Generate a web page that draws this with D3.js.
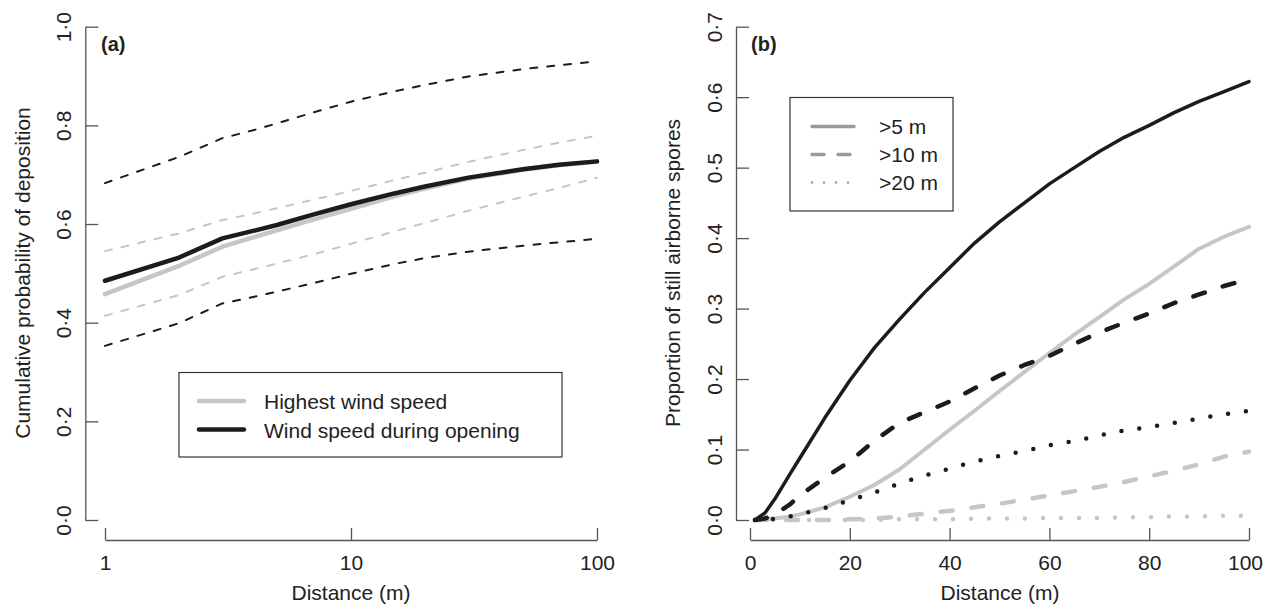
<!DOCTYPE html>
<html>
<head>
<meta charset="utf-8">
<script src="https://cdn.jsdelivr.net/npm/d3@7"></script>
<style>
  body { margin: 0; background: #fff; }
  svg text { font-family: 'Liberation Sans', Arial, Helvetica, sans-serif; fill: #222; }
</style>
</head>
<body>
<div class="chart"></div>
<script>
// DATA - panel (a)
var distA = [1, 2, 3, 4, 5, 7, 10, 15, 20, 30, 50, 70, 100];
var openMean  = [0.485, 0.532, 0.571, 0.586, 0.598, 0.619, 0.640, 0.662, 0.676, 0.694, 0.711, 0.720, 0.727];
var highMean  = [0.458, 0.515, 0.554, 0.573, 0.587, 0.609, 0.631, 0.656, 0.672, 0.692, 0.710, 0.719, 0.726];
var openUpper = [0.683, 0.736, 0.774, 0.790, 0.804, 0.826, 0.848, 0.869, 0.882, 0.899, 0.914, 0.922, 0.930];
var openLower = [0.353, 0.399, 0.439, 0.452, 0.463, 0.480, 0.499, 0.519, 0.531, 0.544, 0.556, 0.563, 0.570];
var highUpper = [0.545, 0.581, 0.608, 0.621, 0.632, 0.649, 0.667, 0.689, 0.704, 0.726, 0.750, 0.765, 0.779];
var highLower = [0.414, 0.456, 0.493, 0.508, 0.520, 0.538, 0.560, 0.585, 0.602, 0.627, 0.655, 0.673, 0.694];
var ticksAX = [1, 10, 100];
var ticksAY = [0, 0.2, 0.4, 0.6, 0.8, 1.0];
var legendA = ["Highest wind speed", "Wind speed during opening"];

// DATA - panel (b)
var distB = [1, 3, 5, 8, 10, 15, 20, 25, 30, 35, 40, 45, 50, 55, 60, 65, 70, 75, 80, 85, 90, 95, 100];
var open5  = [0, 0.010, 0.030, 0.065, 0.088, 0.145, 0.198, 0.245, 0.285, 0.323, 0.358, 0.393, 0.423, 0.450, 0.477, 0.500, 0.523, 0.543, 0.560, 0.578, 0.594, 0.608, 0.622];
var high5  = [0, 0.001, 0.002, 0.005, 0.008, 0.018, 0.033, 0.050, 0.072, 0.100, 0.128, 0.155, 0.183, 0.210, 0.237, 0.263, 0.288, 0.313, 0.335, 0.360, 0.385, 0.402, 0.416];
var open10 = [0, 0.002, 0.008, 0.022, 0.035, 0.060, 0.083, 0.113, 0.138, 0.153, 0.168, 0.187, 0.205, 0.220, 0.233, 0.250, 0.266, 0.280, 0.293, 0.308, 0.320, 0.332, 0.342];
var high10 = [0, 0, 0, 0, 0, 0, 0.001, 0.002, 0.005, 0.009, 0.013, 0.018, 0.023, 0.029, 0.035, 0.041, 0.047, 0.054, 0.062, 0.070, 0.079, 0.090, 0.097];
var open20 = [0, 0, 0.002, 0.005, 0.008, 0.017, 0.028, 0.039, 0.052, 0.063, 0.073, 0.083, 0.091, 0.098, 0.106, 0.112, 0.120, 0.127, 0.132, 0.138, 0.144, 0.150, 0.155];
var high20 = [0, 0, 0, 0, 0, 0, 0, 0, 0.001, 0.001, 0.001, 0.002, 0.002, 0.002, 0.003, 0.003, 0.003, 0.004, 0.004, 0.005, 0.005, 0.006, 0.006];
var ticksBX = [0, 20, 40, 60, 80, 100];
var ticksBY = [0, 0.1, 0.2, 0.3, 0.4, 0.5, 0.6, 0.7];
var legendB = [">5 m", ">10 m", ">20 m"];

var BLACK = "#1c1c1c", LIGHT = "#c6c6c6", MID = "#9a9a9a", AXIS = "#555";
var DASH_A = "7,10", DASH_B = "12,19", DOT = "0,18";

var width = 1263, height = 606;
var svg = d3.select(".chart").append("svg")
    .attr("width", width)
    .attr("height", height);

var fmt = function(d) { return d3.format(".1f")(d).replace(".", "\u00b7"); };

// draws x axis (ticks pointing up) and y axis (ticks pointing right), R style
function drawAxes(x, y, xTicks, yTicks, xFmt, axisX, axisY) {
    var gx = svg.append("g")
        .attr("transform", "translate(0," + axisY + ")")
        .call(d3.axisBottom(x).tickValues(xTicks).tickFormat(xFmt)
            .tickSizeInner(-12).tickSizeOuter(0).tickPadding(15));
    var gy = svg.append("g")
        .attr("transform", "translate(" + axisX + ",0)")
        .call(d3.axisLeft(y).tickValues(yTicks).tickFormat(fmt)
            .tickSizeInner(-13).tickSizeOuter(0));
    [gx, gy].forEach(function(g) {
        g.select(".domain").attr("stroke", AXIS).attr("stroke-width", 1.3);
        g.selectAll(".tick line").attr("stroke", AXIS).attr("stroke-width", 1.3);
        g.selectAll("text").attr("font-size", 21).attr("fill", "#222")
            .style("font-family", "'Liberation Sans', Arial, sans-serif");
    });
    gy.selectAll(".tick text")
        .attr("x", null).attr("dy", null)
        .attr("text-anchor", "middle")
        .attr("transform", "translate(-14,0) rotate(-90)");
    return gx;
}

function drawLine(x, y, xs, ys, color, w, dash) {
    var pts = xs.map(function(d, i) { return [d, ys[i]]; });
    var line = d3.line()
        .x(function(d) { return x(d[0]); })
        .y(function(d) { return y(d[1]); });
    svg.append("path")
        .datum(pts)
        .attr("d", line)
        .attr("fill", "none")
        .attr("stroke", color)
        .attr("stroke-width", w)
        .attr("stroke-linecap", "round")
        .attr("stroke-linejoin", "round")
        .attr("stroke-dasharray", dash || null);
}

function yTitle(txt, bx) {
    svg.append("text")
        .attr("transform", "translate(" + bx + "," + 273 + ") rotate(-90)")
        .attr("text-anchor", "middle")
        .attr("font-size", 21)
        .text(txt);
}

// PANEL (a)
var xA = d3.scaleLog().domain([1, 100]).range([105, 597]);
var yA = d3.scaleLinear().domain([0, 1]).range([520, 26.7]);
drawAxes(xA, yA, ticksAX, ticksAY, d3.format("d"), 85.3, 540);

drawLine(xA, yA, distA, openUpper, BLACK, 2, DASH_A);
drawLine(xA, yA, distA, openLower, BLACK, 2, DASH_A);
drawLine(xA, yA, distA, highUpper, LIGHT, 2, DASH_A);
drawLine(xA, yA, distA, highLower, LIGHT, 2, DASH_A);
drawLine(xA, yA, distA, highMean, LIGHT, 4.5);
drawLine(xA, yA, distA, openMean, BLACK, 4.5);

svg.append("text").attr("x", 101).attr("y", 51)
    .attr("font-size", 20).attr("font-weight", "bold").text("(a)");
yTitle("Cumulative probability of deposition", 30);
svg.append("text").attr("x", 351).attr("y", 600)
    .attr("text-anchor", "middle").attr("font-size", 21).text("Distance (m)");

// legend (a)
svg.append("rect").attr("x", 179).attr("y", 372.5).attr("width", 383).attr("height", 84.5)
    .attr("fill", "none").attr("stroke", "#333").attr("stroke-width", 1.2);
var legA = svg.selectAll(".legA").data(legendA).enter().append("g")
    .attr("class", "legA")
    .attr("transform", function(d, i) { return "translate(0," + (401 + i * 28.5) + ")"; });
legA.append("line").attr("x1", 199).attr("x2", 244)
    .attr("stroke", function(d, i) { return i === 0 ? LIGHT : BLACK; })
    .attr("stroke-width", 4.5).attr("stroke-linecap", "round");
legA.append("text").attr("x", 264).attr("y", 8)
    .attr("font-size", 21).text(function(d) { return d; });

// PANEL (b)
var xB = d3.scaleLinear().domain([0, 100]).range([750, 1249]);
var yB = d3.scaleLinear().domain([0, 0.7]).range([520, 26.7]);
var gxB = drawAxes(xB, yB, ticksBX, ticksBY, d3.format("d"), 736, 540);
// last label sits against the page edge, pull it in a little
gxB.selectAll(".tick text").filter(function(d) { return d === 100; }).attr("dx", -4);

drawLine(xB, yB, distB, high20, LIGHT, 4.5, DOT);
drawLine(xB, yB, distB, high10, LIGHT, 4.5, DASH_B);
drawLine(xB, yB, distB, high5, LIGHT, 4);
drawLine(xB, yB, distB, open20, BLACK, 4.5, DOT);
drawLine(xB, yB, distB, open10, BLACK, 4.5, DASH_B);
drawLine(xB, yB, distB, open5, BLACK, 3.5);

svg.append("text").attr("x", 751).attr("y", 51)
    .attr("font-size", 20).attr("font-weight", "bold").text("(b)");
yTitle("Proportion of still airborne spores", 680);
svg.append("text").attr("x", 1000).attr("y", 600)
    .attr("text-anchor", "middle").attr("font-size", 21).text("Distance (m)");

// legend (b)
var legDash = [null, "12,14", "0,12"];
svg.append("rect").attr("x", 790).attr("y", 97.5).attr("width", 163).attr("height", 113.5)
    .attr("fill", "none").attr("stroke", "#333").attr("stroke-width", 1.2);
var legB = svg.selectAll(".legB").data(legendB).enter().append("g")
    .attr("class", "legB")
    .attr("transform", function(d, i) { return "translate(0," + (126.5 + i * 28) + ")"; });
legB.append("line").attr("x1", 812).attr("x2", 854)
    .attr("stroke", MID).attr("stroke-width", function(d, i) { return i === 2 ? 2.5 : 3.5; })
    .attr("stroke-linecap", "round")
    .attr("stroke-dasharray", function(d, i) { return legDash[i]; });
legB.append("text").attr("x", 879).attr("y", 7.5)
    .attr("font-size", 21).text(function(d) { return d; });
</script>
</body>
</html>
